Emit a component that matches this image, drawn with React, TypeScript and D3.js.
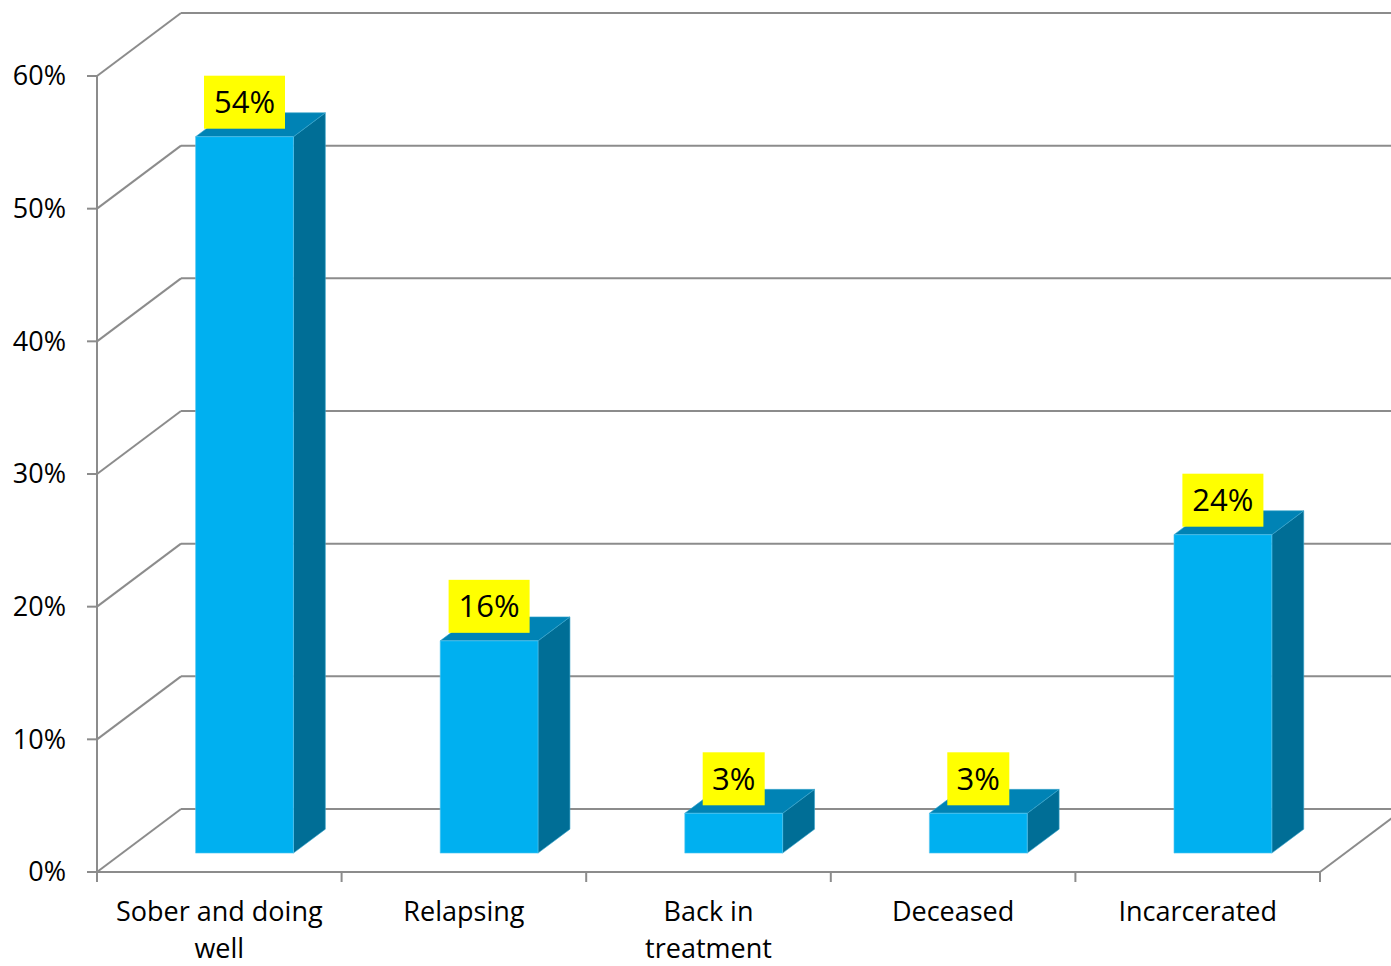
import React from "react";
import * as d3 from "d3";

const categories = ["Sober and doing well", "Relapsing", "Back in treatment", "Deceased", "Incarcerated"];
const categoryLines = [["Sober and doing", "well"], ["Relapsing"], ["Back in", "treatment"], ["Deceased"], ["Incarcerated"]];
const values = [0.54, 0.16, 0.03, 0.03, 0.24];
const valueLabels = ["54%", "16%", "3%", "3%", "24%"];
const yTicks = [0, 0.1, 0.2, 0.3, 0.4, 0.5, 0.6];

const W = 1391;
const H = 966;
const X0 = 97;
const X1 = 1320;
const Y0 = 872;
const YTOP = 76;
const DX = 84;
const DY = -63;
const Z_FRONT = 0.3;
const Z_BACK = 0.68;
const FONT = "'Open Sans', 'DejaVu Sans', sans-serif";
const GRID = "#8c8c8c";

export default function App() {
  const x = d3.scaleBand<string>().domain(categories).range([X0, X1]).paddingInner(0.6).paddingOuter(0.3);
  const y = d3.scaleLinear().domain([0, 0.6]).range([Y0, YTOP]);
  const P = (px: number, py: number, z: number): [number, number] => [px + DX * z, py + DY * z];
  const poly = (pts: [number, number][]) => pts.map((p) => p.join(",")).join(" ");
  const fmt = d3.format(".0%");
  const edges = d3.range(categories.length + 1).map((i) => X0 + i * x.step());

  return (
    <svg width={W} height={H} style={{ position: "absolute", left: 0, top: 0, background: "#fff" }}>
      {yTicks.map((t) => {
        const [bx, by] = P(X0, y(t), 1);
        return <line key={"d" + t} x1={X0} y1={y(t)} x2={bx} y2={by} stroke={GRID} strokeWidth={2} />;
      })}
      {yTicks.map((t) => {
        const [bx, by] = P(X0, y(t), 1);
        const [ex] = P(X1, y(t), 1);
        return <line key={"g" + t} x1={bx} y1={by} x2={ex} y2={by} stroke={GRID} strokeWidth={2} />;
      })}
      {(() => {
        const [ex, ey] = P(X1, Y0, 1);
        return <line x1={X1} y1={Y0} x2={ex} y2={ey} stroke={GRID} strokeWidth={2} />;
      })()}
      <line x1={X0} y1={YTOP} x2={X0} y2={Y0} stroke={GRID} strokeWidth={2} />
      <line x1={X0} y1={Y0} x2={X1} y2={Y0} stroke={GRID} strokeWidth={2} />
      {yTicks.map((t) => (
        <line key={"yt" + t} x1={87} y1={y(t)} x2={X0} y2={y(t)} stroke={GRID} strokeWidth={2} />
      ))}
      {edges.map((e, i) => (
        <line key={"xt" + i} x1={e} y1={Y0} x2={e} y2={Y0 + 10} stroke={GRID} strokeWidth={2} />
      ))}
      {yTicks.map((t) => (
        <text key={"yl" + t} x={66} y={y(t)} dy="0.35em" textAnchor="end" fontFamily={FONT} fontSize={27} fill="#000">
          {fmt(t)}
        </text>
      ))}
      {categories.map((c, i) => {
        const cx = (x(c) as number) + x.bandwidth() / 2;
        return (
          <text key={"cl" + c} x={cx} y={921} textAnchor="middle" fontFamily={FONT} fontSize={27} fill="#000">
            {categoryLines[i].map((ln, j) => (
              <tspan key={j} x={cx} dy={j === 0 ? 0 : 37}>
                {ln}
              </tspan>
            ))}
          </text>
        );
      })}
      {categories.map((c, i) => {
        const xl = x(c) as number;
        const xr = xl + x.bandwidth();
        const yb = y(0);
        const yt = y(values[i]);
        const f = (px: number, py: number) => P(px, py, Z_FRONT);
        const b = (px: number, py: number) => P(px, py, Z_BACK);
        return (
          <g key={"bar" + c}>
            <polygon points={poly([f(xr, yb), b(xr, yb), b(xr, yt), f(xr, yt)])} fill="#006e96" stroke="#3aa6cc" strokeWidth={0.6} />
            <polygon points={poly([f(xl, yt), f(xr, yt), b(xr, yt), b(xl, yt)])} fill="#0083b5" stroke="#3aa6cc" strokeWidth={0.6} />
            <polygon points={poly([f(xl, yb), f(xr, yb), f(xr, yt), f(xl, yt)])} fill="#00b0f0" stroke="#5cc8f0" strokeWidth={0.6} />
          </g>
        );
      })}
      {categories.map((c, i) => {
        const xl = x(c) as number;
        const [fx, fy] = P(xl + x.bandwidth() / 2, y(values[i]), Z_FRONT);
        const w = valueLabels[i].length === 2 ? 62 : 81;
        const h = 53;
        const bottom = fy - 8;
        return (
          <g key={"lab" + c}>
            <rect x={fx - w / 2} y={bottom - h} width={w} height={h} fill="#ffff00" />
            <text x={fx} y={bottom - h / 2} dy="0.36em" textAnchor="middle" fontFamily={FONT} fontSize={31} fill="#000">
              {valueLabels[i]}
            </text>
          </g>
        );
      })}
    </svg>
  );
}
